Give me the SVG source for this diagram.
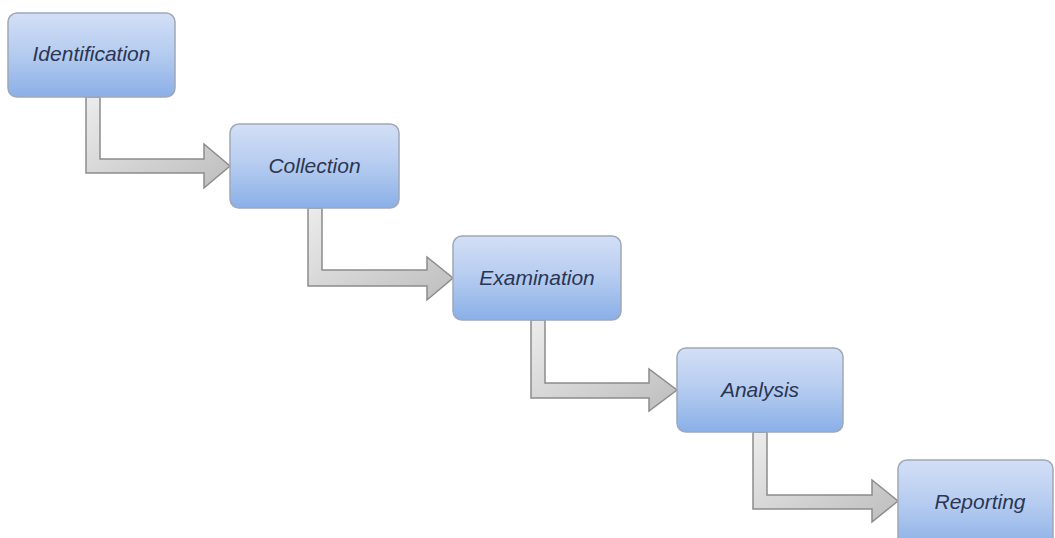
<svg xmlns="http://www.w3.org/2000/svg" width="1055" height="538" viewBox="0 0 1055 538">
<defs>
<linearGradient id="boxg" x1="0" y1="0" x2="0" y2="1">
<stop offset="0" stop-color="#d3dff6"/>
<stop offset="0.5" stop-color="#b4cbf0"/>
<stop offset="1" stop-color="#8aafe7"/>
</linearGradient>
<linearGradient id="arrg" x1="0" y1="0" x2="1" y2="1">
<stop offset="0" stop-color="#ececec"/>
<stop offset="1" stop-color="#bdbdbd"/>
</linearGradient>
<style>
.box{fill:url(#boxg);stroke:#9ea8b8;stroke-width:1.5}
.lbl{font-family:"Liberation Sans",Arial,sans-serif;font-style:italic;font-size:21px;fill:#2b3652;text-anchor:middle}
.arr{fill:url(#arrg);stroke:#8c8c8c;stroke-width:1.5;stroke-linejoin:miter}
</style>
</defs>
<rect width="1055" height="538" fill="#ffffff"/>
<g id="connectors">
<path class="arr" d="M86,97 L100,97 L100,159 L204,159 L204,144 L230,166 L204,188 L204,173 L86,173 Z"/>
<path class="arr" d="M308,208 L322,208 L322,270 L427,270 L427,257 L453,278 L427,300 L427,286 L308,286 Z"/>
<path class="arr" d="M531,320 L545,320 L545,383 L649,383 L649,369 L677,390 L649,411 L649,398 L531,398 Z"/>
<path class="arr" d="M753,432 L767,432 L767,495 L872,495 L872,480 L898,501 L872,522 L872,509 L753,509 Z"/>
</g>
<g id="node-identification">
<rect class="box" x="8" y="13" width="167" height="84" rx="9"/>
<text class="lbl" x="91.5" y="61">Identification</text>
</g>
<g id="node-collection">
<rect class="box" x="230" y="124" width="169" height="84" rx="9"/>
<text class="lbl" x="314.5" y="173">Collection</text>
</g>
<g id="node-examination">
<rect class="box" x="453" y="236" width="168" height="84" rx="9"/>
<text class="lbl" x="537" y="285">Examination</text>
</g>
<g id="node-analysis">
<rect class="box" x="677" y="348" width="166" height="84" rx="9"/>
<text class="lbl" x="760" y="397">Analysis</text>
</g>
<g id="node-reporting">
<rect class="box" x="898" y="460" width="155" height="90" rx="9"/>
<text class="lbl" x="980" y="509">Reporting</text>
</g>
</svg>
